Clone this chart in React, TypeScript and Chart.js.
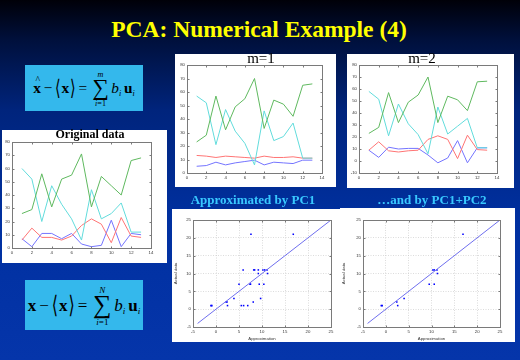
import React, { useEffect, useRef } from "react";
import { Chart, registerables } from "chart.js";
Chart.register(...registerables);

// ---------- data ----------
const sampleIdx = [1, 2, 3, 4, 5, 6, 7, 8, 9, 10, 11, 12, 13];

const origBlue = [7, 1, 11, 11, 7, 11, 3, 1, 2, 21, 1, 11, 10];
const origGreen = [26, 29, 56, 31, 52, 55, 71, 31, 54, 47, 40, 66, 68];
const origRed = [6, 15, 8, 8, 6, 9, 17, 22, 18, 4, 23, 9, 8];
const origCyan = [60, 52, 20, 47, 33, 22, 6, 44, 22, 26, 34, 12, 12];

const m1Green = [23, 28, 57, 32, 49, 55, 70, 33, 54, 51, 42, 65, 66];
const m1Cyan = [57, 52, 21, 47, 31, 22, 6, 46, 24, 27, 37, 11, 11];
const m1Red = [13, 12.5, 11.5, 12.5, 12, 11.5, 11, 12.5, 11.5, 11.5, 12, 11, 11];
const m1Blue = [5, 5.5, 8, 6, 7.5, 8.5, 9.5, 6, 8, 7.5, 7, 9.5, 9.5];

const m2Green = [23, 28, 57, 32, 49, 55, 70, 32, 54, 51, 42, 66, 66.5];
const m2Cyan = [58, 51.5, 21, 47.5, 31, 22, 6, 45, 22.5, 29, 35.5, 11, 11];
const m2Red = [9, 16, 8.5, 7.5, 8.5, 9, 18, 21, 18, 2, 21.5, 9.5, 9];
const m2Blue = [9, 3, 11.5, 10, 10.5, 10.5, 5, -1.5, 2.5, 17, -1.5, 11, 11];

const pc1Approx = [7.6, 16.8, 5.9, 8.2, 8.4, 9.2, 10.2, 10.6, 11.1, 9.2, 11.2, 5.0, 7.4, 7.5, 9.4, 10.4, 3.9, 9.7, 2.2, 2.4, 8.1, -1.1, -0.9, 2.5, 5.5, 6.0, 6.9];
const pc1Actual = [21, 21, 11, 11, 11, 11, 11, 11, 11, 10, 10, 7, 7, 7, 7, 7, 3, 3, 2, 2, 2, 1, 1, 1, 1, 1, 1];

const pc2Approx = [16.9, 10.3, 10.6, 11.2, 11.3, 9.5, 10.6, 4.0, 2.4, 2.6, -1.0, -0.8];
const pc2Actual = [21, 11, 11, 11, 10, 7, 7, 3, 2, 1, 1, 1];

const refLine = [-4, 25];

// ---------- styles ----------
const GREEN = "#5fb95f";
const CYAN = "#62dcdc";
const RED = "#ff7474";
const BLUE = "#7474ff";
const TICK_FONT = { size: 4.3, family: "'Liberation Sans', Arial, sans-serif" };
const TICK_COLOR = "#333";
const SERIF = "'Liberation Serif', 'Times New Roman', 'DejaVu Serif', serif";

const framePlugin = {
  id: "frame",
  afterDraw(chart: any) {
    const { ctx, chartArea: a, scales } = chart;
    ctx.save();
    ctx.strokeStyle = "#7a7a7a";
    ctx.lineWidth = 1;
    const l = Math.round(a.left) + 0.5, t = Math.round(a.top) + 0.5;
    const r = Math.round(a.right) + 0.5, b = Math.round(a.bottom) + 0.5;
    ctx.strokeRect(l, t, r - l, b - t);
    const tl = 2;
    ctx.beginPath();
    scales.x.ticks.forEach((tk: any) => {
      const p = Math.round(scales.x.getPixelForValue(tk.value)) + 0.5;
      ctx.moveTo(p, b); ctx.lineTo(p, b - tl);
      ctx.moveTo(p, t); ctx.lineTo(p, t + tl);
    });
    scales.y.ticks.forEach((tk: any) => {
      const p = Math.round(scales.y.getPixelForValue(tk.value)) + 0.5;
      ctx.moveTo(l, p); ctx.lineTo(l + tl, p);
      ctx.moveTo(r, p); ctx.lineTo(r - tl, p);
    });
    ctx.stroke();
    ctx.restore();
  },
};

type Box = { left: number; top: number; w: number; h: number };
type Pad = { l: number; t: number; r: number; b: number };

function useChart(ref: any, cfg: () => any) {
  useEffect(() => {
    const c = new Chart(ref.current, cfg());
    return () => c.destroy();
  }, []);
}

function LinePanel({ box, pad, yMin, yMax, series }: { box: Box; pad: Pad; yMin: number; yMax: number; series: { data: number[]; color: string }[] }) {
  const ref = useRef<HTMLCanvasElement>(null);
  useChart(ref, () => ({
    type: "line",
    data: {
      datasets: series.map((s) => ({
        data: sampleIdx.map((x, i) => ({ x, y: s.data[i] })),
        borderColor: s.color,
        borderWidth: 1,
        pointRadius: 0,
        tension: 0,
        fill: false,
      })),
    },
    options: {
      animation: false,
      responsive: false,
      devicePixelRatio: 1,
      layout: { padding: { top: pad.t, right: pad.r, left: 0, bottom: 0 } },
      plugins: { legend: { display: false }, tooltip: { enabled: false } },
      scales: {
        x: {
          type: "linear", min: 0, max: 14,
          ticks: { stepSize: 2, font: TICK_FONT, color: TICK_COLOR, padding: 2, maxRotation: 0 },
          grid: { display: false, drawTicks: false }, border: { display: false },
          afterFit: (s: any) => { s.height = pad.b; },
        },
        y: {
          type: "linear", min: yMin, max: yMax,
          ticks: { stepSize: 10, font: TICK_FONT, color: TICK_COLOR, padding: 2 },
          grid: { display: false, drawTicks: false }, border: { display: false },
          afterFit: (s: any) => { s.width = pad.l; },
        },
      },
    },
    plugins: [framePlugin],
  }));
  return (
    <div style={{ position: "absolute", left: box.left, top: box.top, width: box.w, height: box.h, background: "#fff" }}>
      <canvas ref={ref} width={box.w} height={box.h} style={{ display: "block" }} />
    </div>
  );
}

function ScatterPanel({ box, pad, xs, ys }: { box: Box; pad: Pad; xs: number[]; ys: number[] }) {
  const ref = useRef<HTMLCanvasElement>(null);
  useChart(ref, () => ({
    type: "scatter",
    data: {
      datasets: [
        {
          data: refLine.map((v) => ({ x: v, y: v })),
          showLine: true, borderColor: "#6f6fee", borderWidth: 1, pointRadius: 0,
        },
        {
          data: xs.map((x, i) => ({ x, y: ys[i] })),
          pointStyle: "rect", pointRadius: 1.1, backgroundColor: "#0000ff", borderColor: "#0000ff", borderWidth: 0,
        },
      ],
    },
    options: {
      animation: false,
      responsive: false,
      devicePixelRatio: 1,
      layout: { padding: { top: pad.t, right: pad.r, left: 0, bottom: 0 } },
      plugins: { legend: { display: false }, tooltip: { enabled: false } },
      scales: {
        x: {
          type: "linear", min: -5, max: 25,
          ticks: { stepSize: 5, font: TICK_FONT, color: TICK_COLOR, padding: 2, maxRotation: 0 },
          grid: { color: "#c4c4c4", lineWidth: 0.6, drawTicks: false },
          border: { display: false, dash: [1, 1.5] },
          title: { display: true, text: "Approximation", font: TICK_FONT, color: TICK_COLOR, padding: 1 },
          afterFit: (s: any) => { s.height = pad.b; },
        },
        y: {
          type: "linear", min: -5, max: 25,
          ticks: { stepSize: 5, font: TICK_FONT, color: TICK_COLOR, padding: 2 },
          grid: { color: "#c4c4c4", lineWidth: 0.6, drawTicks: false },
          border: { display: false, dash: [1, 1.5] },
          title: { display: true, text: "Actual data", font: TICK_FONT, color: TICK_COLOR, padding: 1 },
          afterFit: (s: any) => { s.width = pad.l; },
        },
      },
    },
    plugins: [framePlugin],
  }));
  return (
    <div style={{ position: "absolute", left: box.left, top: box.top, width: box.w, height: box.h, background: "#fff" }}>
      <canvas ref={ref} width={box.w} height={box.h} style={{ display: "block" }} />
    </div>
  );
}

function Label({ cx, top, size, text, color, bold }: { cx: number; top: number; size: number; text: string; color: string; bold?: boolean }) {
  return (
    <div style={{ position: "absolute", left: cx - 200, width: 400, top, textAlign: "center", fontSize: size, lineHeight: size + "px", color, fontWeight: bold ? "bold" : "normal", whiteSpace: "nowrap", fontFamily: SERIF }}>
      {text}
    </div>
  );
}

function Formula({ box, hat, upper, k }: { box: Box; hat: boolean; upper: string; k: number }) {
  const f = (n: number) => n * k;
  return (
    <div style={{ position: "absolute", left: box.left, top: box.top, width: box.w, height: box.h, background: "#34b8ec", display: "flex", alignItems: "center", justifyContent: "center", fontFamily: SERIF, color: "#000" }}>
      <span style={{ fontWeight: "bold", fontSize: f(17), position: "relative", lineHeight: 1 }}>
        x
        {hat && <span style={{ position: "absolute", left: f(2.5), top: f(-6), fontSize: f(11), fontWeight: "normal" }}>^</span>}
      </span>
      <span style={{ fontSize: f(17), margin: `0 ${f(3)}px`, lineHeight: 1 }}>−</span>
      <span style={{ fontSize: f(16), display: "inline-block", transform: "scaleY(1.5)", lineHeight: 1 }}>⟨</span>
      <span style={{ fontWeight: "bold", fontSize: f(17), lineHeight: 1, margin: `0 ${f(1)}px` }}>x</span>
      <span style={{ fontSize: f(16), display: "inline-block", transform: "scaleY(1.5)", lineHeight: 1 }}>⟩</span>
      <span style={{ fontSize: f(17), margin: `0 ${f(3)}px`, lineHeight: 1 }}>=</span>
      <span style={{ position: "relative", width: f(20), height: f(46), margin: `0 ${f(2)}px` }}>
        <span style={{ position: "absolute", left: 0, width: "100%", textAlign: "center", top: f(4), fontSize: f(9), fontStyle: "italic", lineHeight: f(9) + "px" }}>{upper}</span>
        <span style={{ position: "absolute", left: 0, width: "100%", textAlign: "center", top: f(10), fontSize: f(26), lineHeight: f(26) + "px" }}>∑</span>
        <span style={{ position: "absolute", left: f(-4), width: f(28), textAlign: "center", top: f(36), fontSize: f(9), lineHeight: f(9) + "px", whiteSpace: "nowrap" }}><i>i</i>=1</span>
      </span>
      <span style={{ fontSize: f(17), fontStyle: "italic", lineHeight: 1 }}>b</span>
      <span style={{ fontSize: f(9), fontStyle: "italic", alignSelf: "center", marginTop: f(12), marginRight: f(3) }}>i</span>
      <span style={{ fontSize: f(17), fontWeight: "bold", lineHeight: 1 }}>u</span>
      <span style={{ fontSize: f(9), fontStyle: "italic", alignSelf: "center", marginTop: f(12) }}>i</span>
    </div>
  );
}

export default function App() {
  return (
    <div style={{ position: "fixed", left: 0, top: 0, width: 520, height: 360, overflow: "hidden", background: "linear-gradient(180deg, #000008 0px, #00103c 40px, #00247c 110px, #0030a0 220px, #0535aa 360px)" }}>
      <Label cx={259} top={18} size={23.5} text="PCA: Numerical Example (4)" color="#ffff00" bold />

      <Formula box={{ left: 25, top: 65, w: 118, h: 46 }} hat={true} upper="m" k={0.9} />
      <Formula box={{ left: 25, top: 280, w: 118, h: 50 }} hat={false} upper="N" k={1} />

      <LinePanel box={{ left: 2, top: 130, w: 165, h: 133 }} pad={{ l: 10, t: 12, r: 16, b: 15 }} yMin={0} yMax={80}
        series={[{ data: origGreen, color: GREEN }, { data: origCyan, color: CYAN }, { data: origRed, color: RED }, { data: origBlue, color: BLUE }]} />
      <Label cx={90} top={128} size={12} text="Original data" color="#000" bold />

      <LinePanel box={{ left: 175, top: 54, w: 161, h: 133 }} pad={{ l: 12, t: 11, r: 14, b: 14 }} yMin={0} yMax={80}
        series={[{ data: m1Green, color: GREEN }, { data: m1Cyan, color: CYAN }, { data: m1Red, color: RED }, { data: m1Blue, color: BLUE }]} />
      <Label cx={261} top={50.5} size={15} text="m=1" color="#000" />

      <LinePanel box={{ left: 347, top: 54, w: 167, h: 134 }} pad={{ l: 12, t: 11, r: 17, b: 15 }} yMin={-10} yMax={80}
        series={[{ data: m2Green, color: GREEN }, { data: m2Cyan, color: CYAN }, { data: m2Red, color: RED }, { data: m2Blue, color: BLUE }]} />
      <Label cx={422} top={50.5} size={15} text="m=2" color="#000" />

      <Label cx={253} top={193} size={13} text="Approximated by PC1" color="#38c8ff" bold />
      <Label cx={432} top={193} size={13} text="…and by PC1+PC2" color="#38c8ff" bold />

      <ScatterPanel box={{ left: 172, top: 209, w: 168, h: 133 }} pad={{ l: 21, t: 11, r: 9, b: 15 }} xs={pc1Approx} ys={pc1Actual} />
      <ScatterPanel box={{ left: 340, top: 208, w: 175, h: 134 }} pad={{ l: 23, t: 12, r: 15, b: 15 }} xs={pc2Approx} ys={pc2Actual} />
    </div>
  );
}
